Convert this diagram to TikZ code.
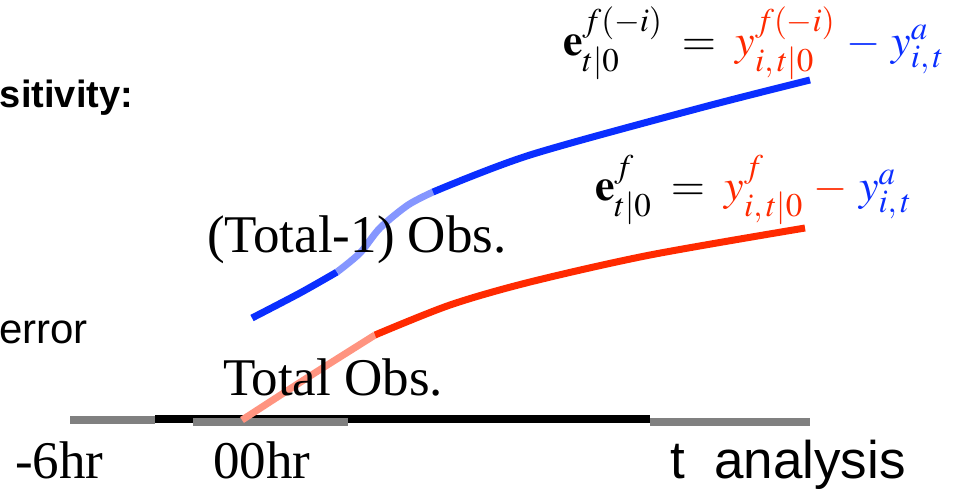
\documentclass[tikz,border=0pt]{standalone}
\usepackage{mathptmx}
\usepackage[no-math]{fontspec}
\setmainfont{Liberation Serif}
\newfontfamily\arialfont{Liberation Sans}
\usepackage{xcolor}
\definecolor{fcred}{HTML}{FF2A00}
\definecolor{anblue}{HTML}{0A2EFF}
\definecolor{barink}{HTML}{808080}
\DeclareMathSizes{44}{44}{33}{25}

\begin{document}
\begin{tikzpicture}[x=1pt,y=-1pt,
  every node/.style={inner sep=0pt,outer sep=0pt},
  serif/.style={font=\fontsize{53}{63}\selectfont,anchor=base west},
  sans/.style={font=\arialfont\fontsize{53}{64}\selectfont,anchor=base west},
  eqn/.style={font=\fontsize{44}{53}\selectfont,anchor=base west},
  barpart/.style={line width=8pt},
  curve/.style={line width=7pt}
]
\useasboundingbox (0,0) rectangle (973,488);

% time axis
\draw[barpart,black] (155,419) -- (650,419);
\draw[barpart,barink] (70,420) -- (155,420);
\draw[barpart,barink] (193,422) -- (348,422);
\draw[barpart,barink] (650,422) -- (810,422);

% total-1 obs. forecast
\draw[curve,anblue] plot[smooth] coordinates {(252,318) (300,293) (337,272)};
\draw[curve,anblue!50] plot[smooth] coordinates {(337,272) (360,253) (380,228) (408,205) (433,192)};
\draw[curve,anblue] plot[smooth] coordinates {(433,192) (530,155) (700,108) (810,80)};

% total obs. forecast
\draw[curve,fcred!50] plot[smooth] coordinates {(242,420) (310,376) (375,335)};
\draw[curve,fcred] plot[smooth] coordinates {(375,335) (450,305) (530,282) (650,255) (805,228)};

\node[font=\arialfont\bfseries\fontsize{38}{46}\selectfont,anchor=base east] (title) at (133,107) {sitivity:};
\node[font=\arialfont\fontsize{42}{50}\selectfont,anchor=base west] (errlab) at (-1,343) {error};

\node[serif] (minusone) at (207,252) {(Total-1) Obs.};
\node[serif] (allobs) at (223,395) {Total Obs.};
\node[serif] (tminus) at (15,478) {-6hr};
\node[serif] (tzero) at (213,478) {00hr};
\node[sans] (tanal) at (670,478) {t\ \ analysis};

\node[eqn] (eqdenial) at (563,55) {$\mathbf{e}^{f(-i)}_{t|0} \mathrel{\;=\;} \textcolor{fcred}{y^{f(-i)}_{i,\,t|0}} \mathbin{\,\textcolor{anblue}{-}\,} \textcolor{anblue}{y^{a}_{i,\,t}}$};
\node[eqn] (eqcontrol) at (595,200) {$\mathbf{e}^{f}_{t|0} \mathrel{\;=\;} \textcolor{fcred}{y^{f}_{i,\,t|0}} \mathbin{\,\textcolor{fcred}{-}\,} \textcolor{anblue}{y^{a}_{i,\,t}}$};
\end{tikzpicture}
\end{document}
